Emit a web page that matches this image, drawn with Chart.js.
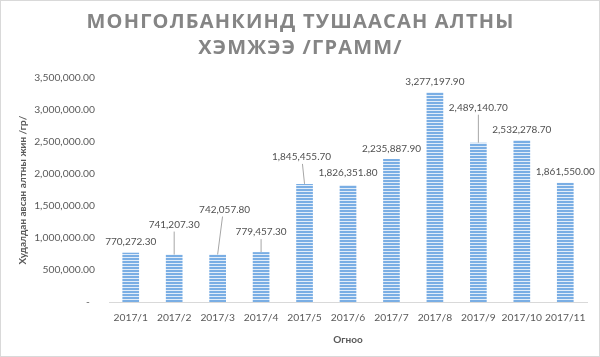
<!DOCTYPE html>
<html>
<head>
<meta charset="utf-8">
<script src="https://cdn.jsdelivr.net/npm/chart.js@4/dist/chart.umd.min.js"></script>
<style>
  html, body { margin: 0; padding: 0; background: #fff; }
  #wrap { width: 600px; height: 357px; position: relative; }
</style>
</head>
<body>
<div id="wrap"><canvas id="c" width="600" height="357"></canvas></div>
<script>
// ---- data ----
const titleLines = ["МОНГОЛБАНКИНД ТУШААСАН АЛТНЫ", "ХЭМЖЭЭ /ГРАММ/"];
const categories = ["2017/1", "2017/2", "2017/3", "2017/4", "2017/5", "2017/6", "2017/7", "2017/8", "2017/9", "2017/10", "2017/11"];
const goldGrams = [770272.30, 741207.30, 742057.80, 779457.30, 1845455.70, 1826351.80, 2235887.90, 3277197.90, 2489140.70, 2532278.70, 1861550.00];
const yAxisTitle = "Худалдан авсан алтны жин /гр/";
const xAxisTitle = "Огноо";

// ---- label placement (styling) ----
const labelDx = [0, 0, 7, 0, -3, 0, 0, 0, 0, 0, 0];
const labelDy = [-11, -30, -45, -20, -27, -12.5, -10.5, -10, -35, -10.5, -11];
const labelLeader = [false, true, true, true, true, false, false, false, true, false, false];

const fmt = v => v.toLocaleString('en-US', {minimumFractionDigits: 2, maximumFractionDigits: 2});

// striped bar fill
const pc = document.createElement('canvas');
pc.width = 1; pc.height = 3;
const pctx = pc.getContext('2d');
pctx.fillStyle = '#7aaee4'; pctx.fillRect(0, 0, 1, 2);
pctx.fillStyle = '#e2edf9'; pctx.fillRect(0, 2, 1, 1);
const ctxMain = document.getElementById('c').getContext('2d');
const stripe = ctxMain.createPattern(pc, 'repeat');

const titlePlugin = {
  id: 'customTitle',
  afterDraw(chart) {
    const ctx = chart.ctx;
    ctx.save();
    ctx.font = 'bold 20px "Open Sans"';
    ctx.fillStyle = '#858585';
    ctx.textAlign = 'center';
    ctx.textBaseline = 'middle';
    try { ctx.letterSpacing = '1.2px'; } catch (e) {}
    ctx.fillText(titleLines[0], 300.5, 22);
    ctx.fillText(titleLines[1], 300.5, 48);
    ctx.restore();
    // frame
    ctx.save();
    ctx.strokeStyle = '#d9d9d9';
    ctx.lineWidth = 1;
    ctx.strokeRect(0.5, 0.5, chart.width - 1, chart.height - 1);
    ctx.restore();
  }
};

const labelPlugin = {
  id: 'barLabels',
  afterDatasetsDraw(chart) {
    const ctx = chart.ctx;
    const meta = chart.getDatasetMeta(0);
    ctx.save();
    ctx.font = '10px Lato';
    ctx.textAlign = 'center';
    ctx.textBaseline = 'middle';
    meta.data.forEach((bar, i) => {
      const lx = bar.x + labelDx[i];
      const ly = bar.y + labelDy[i];
      if (labelLeader[i]) {
        ctx.strokeStyle = '#a6a6a6';
        ctx.lineWidth = 1;
        ctx.beginPath();
        ctx.moveTo(lx - (labelDx[i] ? labelDx[i] * 0.3 : 0), ly + 7);
        ctx.lineTo(bar.x, bar.y);
        ctx.stroke();
      }
      ctx.fillStyle = '#505050';
      ctx.fillText(fmt(goldGrams[i]), lx, ly);
    });
    ctx.restore();
  }
};

new Chart(ctxMain, {
  type: 'bar',
  data: {
    labels: categories,
    datasets: [{
      data: goldGrams,
      backgroundColor: stripe,
      borderWidth: 0,
      barPercentage: 0.384,
      categoryPercentage: 1
    }]
  },
  options: {
    responsive: false,
    animation: false,
    layout: { padding: { top: 78, right: 13, left: 0, bottom: 0 } },
    plugins: {
      legend: { display: false },
      tooltip: { enabled: false },
      title: { display: false }
    },
    scales: {
      x: {
        offset: true,
        grid: { display: false, drawTicks: false },
        border: { display: true, color: '#d9d9d9', width: 1 },
        ticks: { color: '#595959', font: { family: 'Lato', size: 10.3 }, padding: 9, maxRotation: 0, autoSkip: false },
        title: { display: true, text: xAxisTitle, color: '#595959', font: { family: 'Lato', size: 10, weight: 'bold' }, padding: 11 },
        afterFit(scale) { scale.height = 55; }
      },
      y: {
        min: 0,
        max: 3500000,
        grid: { display: false, drawTicks: false },
        border: { display: false },
        ticks: {
          stepSize: 500000,
          color: '#595959',
          font: { family: 'Lato', size: 10.3 },
          padding: 14,
          callback: v => v === 0 ? '-  ' : fmt(v)
        },
        title: { display: true, text: yAxisTitle, color: '#595959', font: { family: 'Lato', size: 10, weight: 'bold' }, padding: 17 },
        afterFit(scale) { scale.width = 109; }
      }
    }
  },
  plugins: [titlePlugin, labelPlugin]
});
</script>
</body>
</html>
